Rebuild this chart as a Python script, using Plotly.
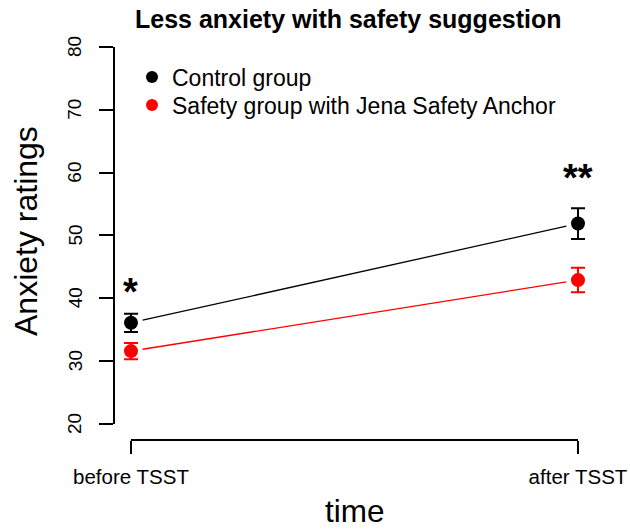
import plotly.graph_objects as go

# ---- data ----
time_labels = ["before TSST", "after TSST"]
time_pos = [0, 1]
control_mean = [36.1, 51.9]
control_err = [1.45, 2.45]
safety_mean = [31.6, 42.9]
safety_err = [1.3, 1.95]
sig_labels = ["*", "**"]
sig_y = [41.0, 59.1]
y_ticks = [20, 30, 40, 50, 60, 70, 80]

FONT = "Liberation Sans, Arial, sans-serif"
gap = 0.026

fig = go.Figure()

def seg(means):
    x0, x1 = time_pos
    y0, y1 = means
    xs = [x0 + gap * (x1 - x0), x1 - gap * (x1 - x0)]
    ys = [y0 + gap * (y1 - y0), y1 - gap * (y1 - y0)]
    return xs, ys

groups = [
    (control_mean, control_err, "black", "Control group", "legend"),
    (safety_mean, safety_err, "red", "Safety group with Jena Safety Anchor", "legend2"),
]
for means, errs, color, name, leg in groups:
    xs, ys = seg(means)
    fig.add_trace(go.Scatter(x=xs, y=ys, mode="lines",
                             line=dict(color=color, width=1.3),
                             showlegend=False, hoverinfo="skip"))
    fig.add_trace(go.Scatter(
        x=time_pos, y=means, mode="markers",
        marker=dict(color=color, size=14),
        error_y=dict(type="data", array=errs, color=color, thickness=2, width=7),
        name=name, showlegend=False))
    fig.add_trace(go.Scatter(x=[None], y=[None], mode="markers",
                             marker=dict(color=color, size=12), name=name, legend=leg))

for x, lab, y in zip(time_pos, sig_labels, sig_y):
    fig.add_annotation(x=x, y=y, text="<b>" + lab + "</b>", showarrow=False,
                       font=dict(size=38, color="black", family=FONT),
                       xanchor="center", yanchor="middle")

# y tick labels, rotated like base R
for v in y_ticks:
    fig.add_annotation(x=0, xref="paper", xshift=-39, y=v, yref="y", text=str(v),
                       showarrow=False, textangle=-90, xanchor="center", yanchor="middle",
                       font=dict(size=19, family=FONT, color="black"))

# axis lines (R style, only spanning ticks)
fig.add_shape(type="line", xref="paper", yref="y", x0=0, x1=0,
              y0=min(y_ticks), y1=max(y_ticks), line=dict(color="black", width=2))
fig.add_shape(type="line", xref="x", yref="paper", x0=time_pos[0], x1=time_pos[-1],
              y0=0, y1=0, line=dict(color="black", width=2))

PW = 630 - 114 - 20
PH = 530 - 40 - 90
leg_common = dict(xanchor="left", yanchor="middle", xref="paper", yref="paper",
                  font=dict(size=23, family=FONT), bgcolor="rgba(0,0,0,0)",
                  itemsizing="constant")

fig.update_layout(
    width=630, height=530,
    margin=dict(l=114, r=20, t=40, b=90, autoexpand=False),
    plot_bgcolor="white", paper_bgcolor="white",
    font=dict(family=FONT, color="black"),
    xaxis=dict(range=[-0.038, 1.0716], tickvals=time_pos, ticktext=time_labels,
               ticks="outside", ticklen=13, tickwidth=2, tickcolor="black",
               showgrid=False, zeroline=False, showline=False, automargin=False,
               tickfont=dict(size=20.5, family=FONT), ticklabelstandoff=5),
    yaxis=dict(range=[17.45, 81.11], tickvals=y_ticks, showticklabels=False,
               ticks="outside", ticklen=14, tickwidth=2, tickcolor="black",
               showgrid=False, zeroline=False, showline=False, automargin=False),
    showlegend=True,
    legend=dict(x=(132 - 114) / PW, y=(440 - 77) / PH, **leg_common),
    legend2=dict(x=(132 - 114) / PW, y=(440 - 105) / PH, **leg_common),
    annotations=list(fig.layout.annotations) + [
        dict(text="<b>Less anxiety with safety suggestion</b>", xref="paper", yref="paper",
             x=(348 - 114) / PW, y=1, yshift=21, showarrow=False,
             xanchor="center", yanchor="middle", font=dict(size=25, family=FONT)),
        dict(text="time", xref="paper", yref="paper", x=(355 - 114) / PW, y=0,
             yshift=-71, showarrow=False, xanchor="center", yanchor="middle",
             font=dict(size=31.5, family=FONT)),
        dict(text="Anxiety ratings", xref="paper", yref="paper", x=0, xshift=-88,
             y=(440 - 231) / PH, showarrow=False, textangle=-90,
             xanchor="center", yanchor="middle", font=dict(size=32, family=FONT)),
    ],
)

fig.write_html("out.html", config={"displayModeBar": False},
               post_script="document.body.style.margin='0';document.body.style.padding='0';")
